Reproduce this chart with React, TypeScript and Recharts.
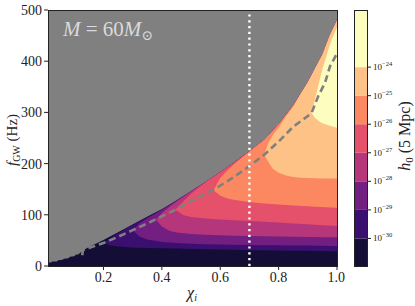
import {
  Area,
  Bar,
  BarChart,
  CartesianGrid,
  ComposedChart,
  Line,
  ReferenceLine,
  XAxis,
  YAxis,
} from "recharts";

const serif = "'Liberation Serif', 'DejaVu Serif', serif";

// upper edge of the allowed region (gray above it)
const edgeChi = [
  0.01, 0.02, 0.025, 0.04, 0.045, 0.06, 0.065, 0.08, 0.085, 0.1, 0.105, 0.115,
  0.12, 0.127, 0.128, 0.15, 0.2, 0.25, 0.3, 0.35, 0.4, 0.45, 0.5, 0.55, 0.6,
  0.65, 0.7, 0.75, 0.8, 0.85, 0.9, 0.925, 0.95, 0.975, 1.0,
];
const edgeFreq = [
  7, 7, 9, 9, 11, 12, 14, 15, 18, 19, 22, 23, 26, 28, 30, 37, 51, 66, 81, 96,
  111, 128, 146, 164, 183, 203, 224, 246, 277, 314, 359, 386, 413, 450, 480,
];

// contour bands of h0, each one a tongue between a lower and an upper edge
const band1Chi = [0.2, 0.225, 0.25, 0.3, 0.35, 0.4, 0.45, 0.5, 0.55, 0.6, 0.65, 0.7, 0.75, 0.8, 0.85, 0.9, 0.925, 0.95, 0.975, 1.0];
const band1Low = [45, 40, 38, 36, 35, 34.5, 34, 33, 32.5, 32, 31.5, 31, 31, 30.5, 30, 30, 29.5, 29.5, 29, 29];
const band1High = [45, 55, 64, 81, 96, 111, 128, 146, 164, 183, 203, 224, 246, 277, 314, 359, 386, 413, 450, 480];

const band2Chi = [0.3, 0.325, 0.35, 0.4, 0.45, 0.5, 0.55, 0.6, 0.65, 0.7, 0.75, 0.8, 0.85, 0.9, 0.925, 0.95, 0.975, 1.0];
const band2Low = [70, 57, 52, 47, 45, 43.5, 42.5, 42, 41.5, 41, 40.5, 40.5, 40, 40, 39.5, 39.5, 39, 39];
const band2High = [70, 84, 93, 110, 128, 146, 164, 183, 203, 224, 246, 277, 314, 359, 386, 413, 450, 480];

const band3Chi = [0.38, 0.4, 0.425, 0.45, 0.5, 0.55, 0.6, 0.65, 0.7, 0.75, 0.8, 0.85, 0.9, 0.925, 0.95, 0.975, 1.0];
const band3Low = [91, 77, 69, 65.5, 62.5, 61, 60, 59, 58.5, 58, 57.5, 57, 56.5, 56.5, 56, 56, 56];
const band3High = [91, 103, 115, 126, 146, 164, 183, 203, 224, 246, 277, 314, 359, 386, 413, 450, 480];

const band4Chi = [0.446, 0.475, 0.5, 0.525, 0.55, 0.6, 0.65, 0.7, 0.75, 0.8, 0.85, 0.9, 0.925, 0.95, 0.975, 1.0];
const band4Low = [110, 99, 95.5, 94, 93, 91, 89.5, 88, 86.5, 85, 83, 81.5, 80.5, 79.5, 79, 78];
const band4High = [110, 127, 141, 153, 164, 183, 203, 224, 246, 277, 314, 359, 386, 413, 450, 480];

const band5Chi = [0.577, 0.6, 0.625, 0.65, 0.7, 0.75, 0.8, 0.85, 0.9, 0.925, 0.95, 0.975, 1.0];
const band5Low = [148, 137, 132, 129, 125, 122, 120, 118, 116.5, 115.5, 115, 114.5, 114];
const band5High = [148, 172, 187, 200, 224, 246, 277, 314, 359, 386, 413, 450, 480];

const band6Chi = [0.75, 0.765, 0.78, 0.8, 0.825, 0.85, 0.875, 0.9, 0.925, 0.95, 0.975, 1.0];
const band6Low = [218, 203, 190, 182, 177, 174, 172.5, 172, 171.5, 171, 171, 171];
const band6High = [218, 240, 256, 270, 292, 311, 336, 359, 386, 413, 450, 480];

const band7Chi = [0.913, 0.925, 0.94, 0.95, 0.965, 0.98, 1.0];
const band7Low = [299, 289, 282, 279, 276, 273, 270];
const band7High = [299, 326, 362, 385, 412, 440, 466];

// dashed ridge through the tongue tips
const ridgeChi = [0.127, 0.13, 0.15, 0.2, 0.25, 0.3, 0.35, 0.4, 0.45, 0.5, 0.55, 0.6, 0.65, 0.7, 0.75, 0.8, 0.85, 0.9, 0.913, 0.936, 0.959, 0.976, 1.0];
const ridgeFreq = [21, 31, 35, 45, 57, 70, 83, 97, 111, 127, 141, 157, 175, 195, 217, 243, 272, 293, 299, 332, 358, 390, 415];

const spinMark = 0.7;

const xTicks = [0.2, 0.4, 0.6, 0.8, 1.0];
const yTicks = [0, 100, 200, 300, 400, 500];

// colorbar: log10 h0 level edges and colours (magma)
const cbEdges = [-31, -30, -29, -28, -27, -26, -25, -24, -22];
const cbTicks = [-30, -29, -28, -27, -26, -25, -24];
const bandColors = [
  "#140e36",
  "#3b0f70",
  "#721f81",
  "#b5367a",
  "#e5506a",
  "#fb8861",
  "#fec287",
  "#fcfdbf",
];

const toRange = (chi: number[], low: number[], high: number[]) =>
  chi.map((c, i) => ({ chi: c, range: [low[i], high[i]] }));

const bands = [
  toRange(edgeChi, edgeChi.map(() => 0), edgeFreq),
  toRange(band1Chi, band1Low, band1High),
  toRange(band2Chi, band2Low, band2High),
  toRange(band3Chi, band3Low, band3High),
  toRange(band4Chi, band4Low, band4High),
  toRange(band5Chi, band5Low, band5High),
  toRange(band6Chi, band6Low, band6High),
  toRange(band7Chi, band7Low, band7High),
];

const ridgeData = ridgeChi.map((c, i) => ({ chi: c, f: ridgeFreq[i] }));

const cbRow: Record<string, number | string> = { name: "h0" };
bandColors.forEach((_, i) => {
  cbRow[`b${i}`] = cbEdges[i + 1] - cbEdges[i];
});

const CbTick = (props: any) => {
  const { x, y, payload } = props;
  const exp = cbEdges[0] + payload.value;
  return (
    <text x={x} y={y + 3} fontFamily={serif} fontSize={9} fill="#222">
      10
      <tspan dy={-4} fontSize={6.5}>{`\u2212${-exp}`}</tspan>
    </text>
  );
};

export default function App() {
  return (
    <div
      style={{
        position: "absolute",
        left: 0,
        top: 0,
        width: 415,
        height: 306,
        background: "#fff",
      }}
    >
      <div style={{ position: "absolute", left: 0, top: 0 }}>
        <ComposedChart
          width={345}
          height={306}
          margin={{ top: 10, right: 8, bottom: 0, left: 0 }}
        >
          <CartesianGrid fill="#808080" stroke="none" />
          <XAxis
            dataKey="chi"
            type="number"
            domain={[0.01, 1]}
            allowDataOverflow
            ticks={xTicks}
            tickFormatter={(v: number) => v.toFixed(1)}
            height={40}
            axisLine={false}
            tickSize={4}
            tickLine={{ stroke: "#222" }}
            tick={{ fontFamily: serif, fontSize: 14, fill: "#222" }}
          />
          <YAxis
            type="number"
            domain={[0, 500]}
            allowDataOverflow
            ticks={yTicks}
            width={48}
            axisLine={false}
            tickSize={4}
            tickLine={{ stroke: "#222" }}
            tick={{ fontFamily: serif, fontSize: 14, fill: "#222" }}
          />
          {bands.map((rows, i) => (
            <Area
              key={i}
              data={rows}
              dataKey="range"
              type="linear"
              stroke="none"
              fill={bandColors[i]}
              fillOpacity={1}
              isAnimationActive={false}
            />
          ))}
          <Line
            data={ridgeData}
            dataKey="f"
            type="linear"
            stroke="#808080"
            strokeWidth={2.6}
            strokeDasharray="7 4"
            dot={false}
            isAnimationActive={false}
          />
          <ReferenceLine
            x={spinMark}
            stroke="#ffffff"
            strokeWidth={2.4}
            strokeDasharray="2.2 3.6"
          />
        </ComposedChart>
      </div>

      <div style={{ position: "absolute", left: 344, top: 0 }}>
        <BarChart
          width={71}
          height={306}
          data={[cbRow]}
          margin={{ top: 10, right: 0, bottom: 39, left: 10 }}
          barCategoryGap={0}
          barGap={0}
        >
          <XAxis dataKey="name" hide />
          <YAxis
            orientation="right"
            type="number"
            domain={[0, cbEdges[cbEdges.length - 1] - cbEdges[0]]}
            ticks={cbTicks.map((t) => t - cbEdges[0])}
            width={47}
            axisLine={false}
            tickSize={3}
            tickLine={{ stroke: "#222" }}
            tick={<CbTick />}
          />
          {bandColors.map((c, i) => (
            <Bar
              key={i}
              dataKey={`b${i}`}
              stackId="cb"
              fill={c}
              isAnimationActive={false}
            />
          ))}
        </BarChart>
      </div>

      {/* frames */}
      <div
        style={{
          position: "absolute",
          left: 48,
          top: 10,
          width: 290,
          height: 257,
          boxSizing: "border-box",
          border: "1px solid #222",
          pointerEvents: "none",
        }}
      />
      <div
        style={{
          position: "absolute",
          left: 354,
          top: 10,
          width: 14,
          height: 257,
          boxSizing: "border-box",
          border: "1px solid #222",
          pointerEvents: "none",
        }}
      />

      <svg
        width={415}
        height={306}
        style={{ position: "absolute", left: 0, top: 0, pointerEvents: "none" }}
      >
        <text x={63} y={36} fontFamily={serif} fontSize={21} fill="#dadada">
          <tspan fontStyle="italic">M</tspan>
          <tspan> = 60</tspan>
          <tspan fontStyle="italic">M</tspan>
          <tspan dy={4} fontSize={14}>{"\u2299"}</tspan>
        </text>
        <text
          x={192}
          y={298}
          textAnchor="middle"
          fontFamily={serif}
          fontSize={16}
          fill="#222"
        >
          <tspan fontStyle="italic">χ</tspan>
          <tspan dy={3} fontSize={10} fontStyle="italic">i</tspan>
        </text>
        <text
          transform="translate(17 140) rotate(-90)"
          textAnchor="middle"
          fontFamily={serif}
          fontSize={15}
          fill="#222"
        >
          <tspan fontStyle="italic">f</tspan>
          <tspan dy={3} fontSize={10}>GW</tspan>
          <tspan dy={-3}> (Hz)</tspan>
        </text>
        <text
          transform="translate(410 136) rotate(-90)"
          textAnchor="middle"
          fontFamily={serif}
          fontSize={16}
          fill="#222"
        >
          <tspan fontStyle="italic">h</tspan>
          <tspan dy={3} fontSize={11}>0</tspan>
          <tspan dy={-3}> (5 Mpc)</tspan>
        </text>
      </svg>
    </div>
  );
}
